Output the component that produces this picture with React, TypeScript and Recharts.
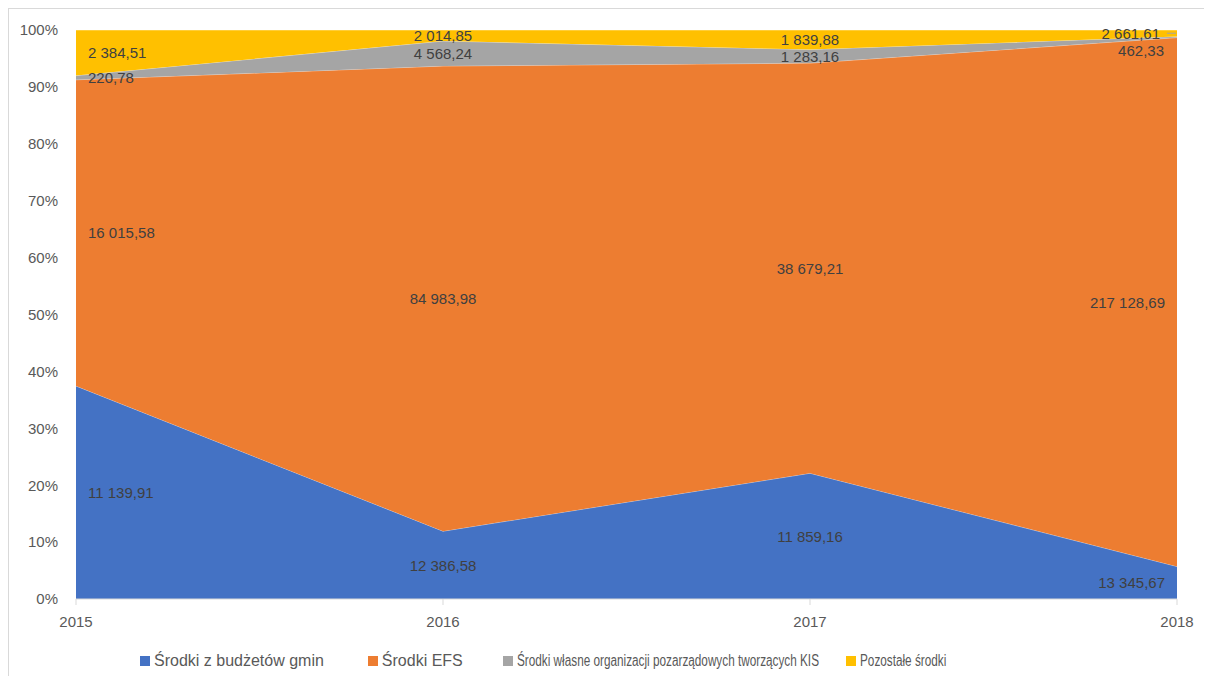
import React from "react";
import {
  ComposedChart,
  Area,
  Line,
  XAxis,
  YAxis,
  Legend,
  LabelList,
} from "recharts";

const years = ["2015", "2016", "2017", "2018"];

const gminValues = [11139.91, 12386.58, 11859.16, 13345.67];
const efsValues = [16015.58, 84983.98, 38679.21, 217128.69];
const wlasneValues = [220.78, 4568.24, 1283.16, 462.33];
const pozostaleValues = [2384.51, 2014.85, 1839.88, 2661.61];

const yTicks = [0, 10, 20, 30, 40, 50, 60, 70, 80, 90, 100];

const series = [
  { key: "gmin", name: "Środki z budżetów gmin", color: "#4472C4", values: gminValues },
  { key: "efs", name: "Środki EFS", color: "#ED7D31", values: efsValues },
  {
    key: "wlasne",
    name: "Środki własne organizacji pozarządowych tworzących KIS",
    color: "#A5A5A5",
    values: wlasneValues,
  },
  { key: "pozostale", name: "Pozostałe środki", color: "#FFC000", values: pozostaleValues },
];

// shares in percent plus the middle of each band, for the labels
const data = years.map((year, i) => {
  const total = series.reduce((s, ser) => s + ser.values[i], 0);
  const row: Record<string, number | string> = { year };
  let acc = 0;
  series.forEach((ser) => {
    const share = (ser.values[i] / total) * 100;
    row[ser.key] = share;
    row[`mid_${ser.key}`] = acc + share / 2;
    row[`raw_${ser.key}`] = ser.values[i];
    acc += share;
  });
  return row;
});

function formatPl(v: number) {
  const [intPart, dec] = v.toFixed(2).split(".");
  const grouped = intPart.replace(/\B(?=(\d{3})+(?!\d))/g, " ");
  return `${grouped},${dec}`;
}

const FONT = "'Liberation Sans', Arial, sans-serif";

// labels for the thin bands at the last year are pulled apart like in Excel
const makeLabel = (key: string) => (props: any) => {
  const { x, y, value, index } = props;
  if (x == null || y == null) return null;
  let anchor: "start" | "middle" | "end" = "middle";
  let dx = 0;
  let dy = 0;
  let leader = false;
  if (index === 0) {
    anchor = "start";
    dx = 12;
  } else if (index === years.length - 1) {
    anchor = "end";
    dx = -12;
    if (key === "pozostale") {
      dx = -17;
      leader = true;
    }
    if (key === "wlasne") {
      dx = -13;
      dy = 13;
    }
  }
  return (
    <g>
      {leader && (
        <line x1={x - 10} y1={y} x2={x - 1} y2={y} stroke="#A5A5A5" strokeWidth={1} />
      )}
      <text
        x={x + dx}
        y={y + dy}
        textAnchor={anchor}
        dominantBaseline="central"
        fill="#404040"
        fontSize={15}
        fontFamily={FONT}
      >
        {formatPl(Number(value))}
      </text>
    </g>
  );
};

const legendGaps = [44, 40, 28, 0];
const legendSqueeze: Record<string, number> = { wlasne: 301, pozostale: 87 };

function renderLegend() {
  return (
    <div
      style={{
        height: 26,
        display: "flex",
        alignItems: "center",
        paddingLeft: 131,
        fontFamily: FONT,
        fontSize: 16,
        color: "#595959",
        whiteSpace: "nowrap",
      }}
    >
      {series.map((s, i) => (
        <div
          key={s.key}
          style={{ display: "flex", alignItems: "center", marginRight: legendGaps[i] }}
        >
          <span
            style={{
              display: "inline-block",
              width: 10,
              height: 10,
              background: s.color,
              marginRight: 4,
            }}
          />
          {legendSqueeze[s.key] ? (
            <span style={{ display: "inline-block", width: legendSqueeze[s.key] }}>
              <span
                style={{
                  display: "inline-block",
                  transform: "scaleX(0.735)",
                  transformOrigin: "left center",
                }}
              >
                {s.name}
              </span>
            </span>
          ) : (
            <span>{s.name}</span>
          )}
        </div>
      ))}
    </div>
  );
}

export default function App() {
  return (
    <div
      style={{
        width: 1195,
        height: 667,
        borderTop: "1px solid #D9D9D9",
        borderLeft: "1px solid #D9D9D9",
        background: "#fff",
      }}
    >
      <ComposedChart
        width={1195}
        height={667}
        data={data}
        margin={{ top: 21, right: 27, left: 0, bottom: 2 }}
        style={{ fontFamily: FONT }}
      >
        <XAxis
          dataKey="year"
          height={49}
          axisLine={{ stroke: "#D9D9D9" }}
          tickLine={{ stroke: "#D9D9D9" }}
          tickSize={6}
          tickMargin={11}
          tick={{ fill: "#595959", fontSize: 15 }}
          interval={0}
        />
        <YAxis
          type="number"
          domain={[0, 100]}
          ticks={yTicks}
          width={67}
          axisLine={false}
          tickLine={false}
          tickMargin={12}
          tick={{ fill: "#595959", fontSize: 15 }}
          tickFormatter={(v) => `${v}%`}
          allowDataOverflow
        />
        {series.map((s) => (
          <Area
            key={s.key}
            type="linear"
            dataKey={s.key}
            name={s.name}
            stackId="1"
            fill={s.color}
            fillOpacity={1}
            stroke="#ffffff"
            strokeOpacity={0.6}
            strokeWidth={0.75}
            isAnimationActive={false}
            activeDot={false}
          />
        ))}
        {series.map((s) => (
          <Line
            key={`mid_${s.key}`}
            type="linear"
            dataKey={`mid_${s.key}`}
            stroke="none"
            dot={false}
            activeDot={false}
            legendType="none"
            isAnimationActive={false}
          >
            <LabelList dataKey={`raw_${s.key}`} content={makeLabel(s.key)} />
          </Line>
        ))}
        <Legend verticalAlign="bottom" content={renderLegend} />
      </ComposedChart>
    </div>
  );
}
